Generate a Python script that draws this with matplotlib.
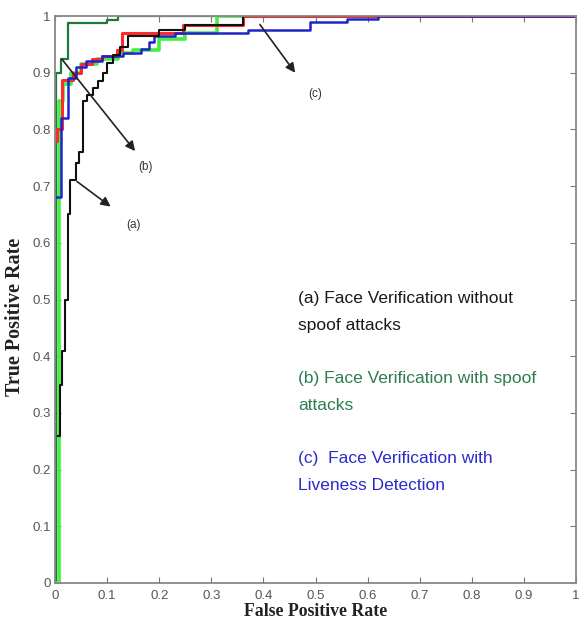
import matplotlib
matplotlib.use('Agg')
import matplotlib.pyplot as plt
import numpy as np

# ROC curves: (fpr, tpr) with tpr holding from that fpr on (steps-post)
fpr_a = [0.005, 0.009, 0.013, 0.02, 0.025, 0.028, 0.04, 0.046, 0.053, 0.062, 0.073, 0.082,
         0.092, 0.1, 0.111, 0.125, 0.14, 0.2, 0.25, 0.36, 1.0]
tpr_a = [0.26, 0.35, 0.41, 0.5, 0.65, 0.71, 0.74, 0.76, 0.85, 0.86, 0.873, 0.885,
         0.9, 0.917, 0.931, 0.945, 0.965, 0.975, 0.984, 1.0, 1.0]

fpr_red = [0.0, 0.004, 0.013, 0.035, 0.05, 0.07, 0.09, 0.119, 0.128, 0.246, 0.36, 1.0]
tpr_red = [0.78, 0.80, 0.887, 0.9, 0.915, 0.925, 0.93, 0.94, 0.97, 0.984, 1.0, 1.0]

fpr_blue = [0.0, 0.012, 0.025, 0.04, 0.06, 0.09, 0.13, 0.165, 0.18, 0.19, 0.23, 0.37,
            0.49, 0.56, 0.62, 1.0]
tpr_blue = [0.68, 0.82, 0.89, 0.91, 0.92, 0.93, 0.935, 0.942, 0.955, 0.964, 0.97, 0.975,
            0.99, 0.995, 1.0, 1.0]

fpr_lgreen = [0.0, 0.007, 0.015, 0.03, 0.05, 0.08, 0.12, 0.15, 0.2, 0.25, 0.31, 1.0]
tpr_lgreen = [0.0, 0.85, 0.88, 0.9, 0.915, 0.925, 0.935, 0.94, 0.96, 0.97, 1.0, 1.0]

fpr_dgreen = [0.0, 0.002, 0.012, 0.025, 0.1, 0.12, 1.0]
tpr_dgreen = [0.0, 0.9, 0.925, 0.988, 0.993, 1.0, 1.0]

fig = plt.figure(figsize=(5.81, 6.37), dpi=100)
ax = fig.add_axes([0.0947, 0.0848, 0.897, 0.890])

ax.step(fpr_dgreen, tpr_dgreen, where='post', color='#1f7a3a', lw=1.6)
ax.step(fpr_lgreen, tpr_lgreen, where='post', color='#44ee44', lw=2.6)
ax.step(fpr_red, tpr_red, where='post', color='#ff2a2a', lw=2.2)
ax.step(fpr_blue, tpr_blue, where='post', color='#2222cc', lw=1.8)
ax.step(fpr_a, tpr_a, where='post', color='#111111', lw=1.5)

arr = dict(arrowstyle='-|>', color='#222222', lw=1.2, mutation_scale=14)
ax.annotate('', xy=(0.111, 0.661), xytext=(0.038, 0.711), arrowprops=arr)
ax.annotate('', xy=(0.157, 0.758), xytext=(0.0096, 0.928), arrowprops=arr)
ax.annotate('', xy=(0.464, 0.896), xytext=(0.39, 0.989), arrowprops=arr)
lab_kw = dict(fontsize=8.5, color='#333333', family='Liberation Sans', ha='center', va='center')
ax.text(0.15, 0.631, '(a)', **lab_kw)
ax.text(0.173, 0.734, '(b)', **lab_kw)
ax.text(0.50, 0.862, '(c)', **lab_kw)

txt_kw = dict(fontsize=12.5, family='Liberation Sans', va='top', linespacing=2.0)
ax.text(0.466, 0.515, '(a) Face Verification without\nspoof attacks', color='#1a1a1a', **txt_kw)
ax.text(0.466, 0.374, '(b) Face Verification with spoof\nattacks', color='#2e7d4f', **txt_kw)
ax.text(0.466, 0.233, '(c)  Face Verification with\nLiveness Detection', color='#2b2bcc', **txt_kw)

ax.set_xlim(0, 1)
ax.set_ylim(0, 1)
ticks = np.arange(0, 1.01, 0.1)
labels = ['0'] + ['%.1f' % t for t in ticks[1:-1]] + ['1']
ax.set_xticks(ticks)
ax.set_xticklabels(labels)
ax.set_yticks(ticks)
ax.set_yticklabels(labels)
ax.tick_params(direction='in', top=True, right=True, length=4, color='#777777',
               labelcolor='#555555', labelsize=9.5, pad=3)
ax.tick_params(axis='x', pad=5)
for lab in ax.get_xticklabels() + ax.get_yticklabels():
    lab.set_family('Liberation Sans')
for s in ax.spines.values():
    s.set_color('#888888')
    s.set_linewidth(1.3)

ax.set_xlabel('False Positive Rate', family='Liberation Serif', fontweight='bold',
              fontsize=12.8, color='#222222', labelpad=1)
ax.set_ylabel('True Positive Rate', family='Liberation Serif', fontweight='bold',
              fontsize=14.5, color='#222222')
ax.yaxis.set_label_coords(-0.058, 0.47)

fig.savefig('out.png', dpi=100)
